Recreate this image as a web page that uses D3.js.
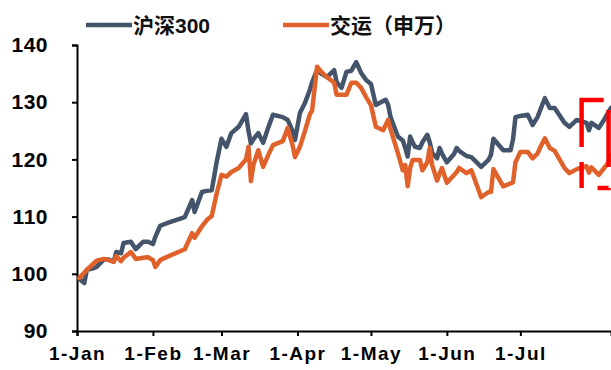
<!DOCTYPE html>
<html>
<head>
<meta charset="utf-8">
<script src="https://cdn.jsdelivr.net/npm/d3@7"></script>
<style>
  body { margin: 0; background: #fff; }
  text { font-family: Arial, "Liberation Sans", "Noto Sans CJK SC", sans-serif; font-weight: bold; }
</style>
</head>
<body>
<svg id="chart" width="611" height="370"></svg>
<script>
// daily-ish index values, 2019 (start = 100)
const dates = [
  '2019-01-02','2019-01-04','2019-01-05','2019-01-08','2019-01-09','2019-01-12','2019-01-14','2019-01-16',
  '2019-01-17','2019-01-19','2019-01-20','2019-01-23','2019-01-25','2019-01-28','2019-01-30','2019-02-01',
  '2019-02-02','2019-02-04','2019-02-07','2019-02-14','2019-02-17','2019-02-18','2019-02-21','2019-02-23',
  '2019-02-25','2019-02-27','2019-03-01','2019-03-03','2019-03-05','2019-03-08','2019-03-11','2019-03-12',
  '2019-03-13','2019-03-14','2019-03-16','2019-03-18','2019-03-20','2019-03-22','2019-03-26','2019-03-28',
  '2019-03-30','2019-03-31','2019-04-02','2019-04-04','2019-04-06','2019-04-07','2019-04-09','2019-04-11',
  '2019-04-13','2019-04-16','2019-04-17','2019-04-19','2019-04-21','2019-04-23','2019-04-25','2019-04-27',
  '2019-04-29','2019-05-01','2019-05-03','2019-05-06','2019-05-07','2019-05-08','2019-05-09','2019-05-12',
  '2019-05-14','2019-05-15','2019-05-16','2019-05-17','2019-05-18','2019-05-19','2019-05-21','2019-05-22',
  '2019-05-24','2019-05-25','2019-05-26','2019-05-28','2019-05-29','2019-05-30','2019-06-01','2019-06-04',
  '2019-06-05','2019-06-06','2019-06-09','2019-06-11','2019-06-15','2019-06-18','2019-06-19','2019-06-20',
  '2019-06-24','2019-06-27','2019-06-28','2019-06-29','2019-07-01','2019-07-04','2019-07-06','2019-07-08',
  '2019-07-09','2019-07-11','2019-07-13','2019-07-15','2019-07-19','2019-07-21','2019-07-24','2019-07-28',
  '2019-07-29','2019-07-30','2019-08-02','2019-08-04','2019-08-06','2019-08-07'
];

const hs300 = [
  99.1, 98.4, 100.7, 101.0, 101.2, 102.5, 102.5, 102.1,
  103.8, 103.6, 105.4, 105.6, 104.3, 105.6, 105.6, 105.2,
  106.5, 108.4, 108.9, 109.9, 112.9, 110.8, 114.3, 114.5,
  114.6, 119.5, 123.6, 122.2, 124.6, 125.7, 127.9, 125.0,
  122.8, 123.5, 124.6, 122.9, 125.5, 127.8, 127.4, 126.9,
  125.0, 123.4, 128.1, 129.8, 132.1, 133.5, 135.6, 134.9,
  134.4, 135.6, 133.5, 132.5, 135.3, 135.5, 137.0, 135.1,
  133.9, 133.2, 129.5, 130.2, 130.4, 129.6, 127.4, 124.0,
  123.3, 122.0, 120.5, 124.0, 123.0, 122.2, 122.0, 123.0,
  124.3, 123.0, 121.1, 120.2, 122.0, 121.0, 119.5, 121.0,
  122.0, 121.5, 120.6, 120.4, 118.7, 119.9, 120.8, 123.6,
  121.6, 121.6, 123.5, 127.4, 127.6, 127.8, 126.0, 127.4,
  128.5, 130.7, 129.0, 129.0, 126.4, 125.7, 126.9, 126.4,
  125.1, 126.4, 125.5, 126.8, 128.3, 129.0
];

const jiaoyun = [
  99.3, 100.2, 100.7, 101.9, 102.3, 102.6, 102.4, 102.1,
  103.1, 102.2, 102.8, 103.8, 102.6, 102.8, 102.9, 102.4,
  101.2, 102.4, 103.0, 104.3, 107.1, 106.3, 108.3, 109.4,
  110.1, 114.0, 117.3, 117.0, 117.8, 118.5, 120.0, 122.2,
  116.2, 119.0, 121.6, 118.7, 120.7, 122.5, 123.2, 125.5,
  122.5, 120.4, 122.2, 124.9, 127.8, 128.6, 136.2, 135.2,
  134.4, 133.4, 131.3, 131.3, 131.3, 133.4, 133.4, 132.5,
  130.9, 129.5, 125.7, 125.1, 126.0, 126.9, 125.3, 121.1,
  118.1, 119.0, 115.3, 118.5, 119.9, 119.9, 119.9, 118.1,
  119.5, 122.0, 119.0, 116.3, 117.5, 118.5, 115.9, 117.3,
  117.8, 118.5, 117.6, 118.1, 113.4, 114.3, 114.3, 118.3,
  115.3, 115.8, 116.0, 119.5, 121.3, 121.3, 120.2, 121.0,
  122.0, 123.7, 122.0, 121.5, 118.5, 117.6, 118.3, 118.8,
  117.7, 118.6, 117.3, 118.4, 119.5, 120.8
];

const seriesNames = ['沪深300', '交运（申万）'];
const seriesColors = ['#44546a', '#e0622a'];
const yTicks = [90, 100, 110, 120, 130, 140];
const xTickDates = ['2019-01-01','2019-02-01','2019-03-01','2019-04-01','2019-05-01','2019-06-01','2019-07-01'];
const xDomain = ['2019-01-01', '2019-08-07'];

const parse = d3.timeParse('%Y-%m-%d');
const fmt = d3.timeFormat('%-d-%b');

const svg = d3.select('#chart'),
    margin = {top: 45, right: 0, bottom: 39, left: 77},
    width = 611 - margin.left - margin.right,
    height = 370 - margin.top - margin.bottom,
    g = svg.append('g').attr('transform', `translate(${margin.left},${margin.top})`);

const x = d3.scaleTime()
  .domain(xDomain.map(parse))
  .range([0, width]);

const y = d3.scaleLinear()
  .domain([90, 140])
  .range([height, 0]);

// axes
const yAxis = g.append('g')
  .call(d3.axisLeft(y).tickValues(yTicks).tickSize(5).tickPadding(24));
yAxis.select('.domain').attr('stroke', '#000').attr('stroke-width', 2);
yAxis.selectAll('.tick line').attr('stroke', '#000').attr('stroke-width', 2);
yAxis.selectAll('.tick text').attr('font-size', 21).attr('fill', '#000').attr('letter-spacing', 0.5);

const xAxis = g.append('g')
  .attr('transform', `translate(0,${height})`)
  .call(d3.axisBottom(x).tickValues(xTickDates.map(parse)).tickFormat(fmt).tickSizeOuter(0).tickSize(5).tickPadding(11));
xAxis.select('.domain').attr('stroke', '#000').attr('stroke-width', 2);
xAxis.selectAll('.tick line').attr('stroke', '#000').attr('stroke-width', 2);
xAxis.selectAll('.tick text').attr('font-size', 19).attr('fill', '#000').attr('letter-spacing', 1.5);

// lines
const line = d3.line()
  .x(d => x(d[0]))
  .y(d => y(d[1]));

[hs300, jiaoyun].forEach((vals, i) => {
  g.append('path')
    .datum(dates.map((d, j) => [parse(d), vals[j]]))
    .attr('fill', 'none')
    .attr('stroke', seriesColors[i])
    .attr('stroke-width', 4.5)
    .attr('stroke-linejoin', 'round')
    .attr('stroke-linecap', 'round')
    .attr('d', line);
});

// red dashed highlight box over the last stretch
const bx0 = x(parse('2019-07-26')), bx1 = x(parse('2019-08-06')),
      by0 = y(130.4), by1 = y(115);
g.append('path')
  .attr('d', `M${bx1 - 5},${by0}L${bx0},${by0}L${bx0},${by1}L${bx1},${by1}L${bx1},${by0}Z`)
  .attr('fill', 'none')
  .attr('stroke', '#ff0000')
  .attr('stroke-width', 4.5)
  .attr('stroke-dasharray', '69,15,26,16,11,21,57,15');

// legend
const legendX = [86, 283];
seriesNames.forEach((name, i) => {
  const lg = svg.append('g').attr('transform', `translate(${legendX[i]},25)`);
  lg.append('line')
    .attr('x1', 0).attr('x2', 46)
    .attr('stroke', seriesColors[i])
    .attr('stroke-width', 4.5);
  lg.append('text')
    .attr('x', 47)
    .attr('dy', '0.36em')
    .attr('font-size', 21)
    .attr('fill', '#111')
    .text(name);
});
</script>
</body>
</html>
